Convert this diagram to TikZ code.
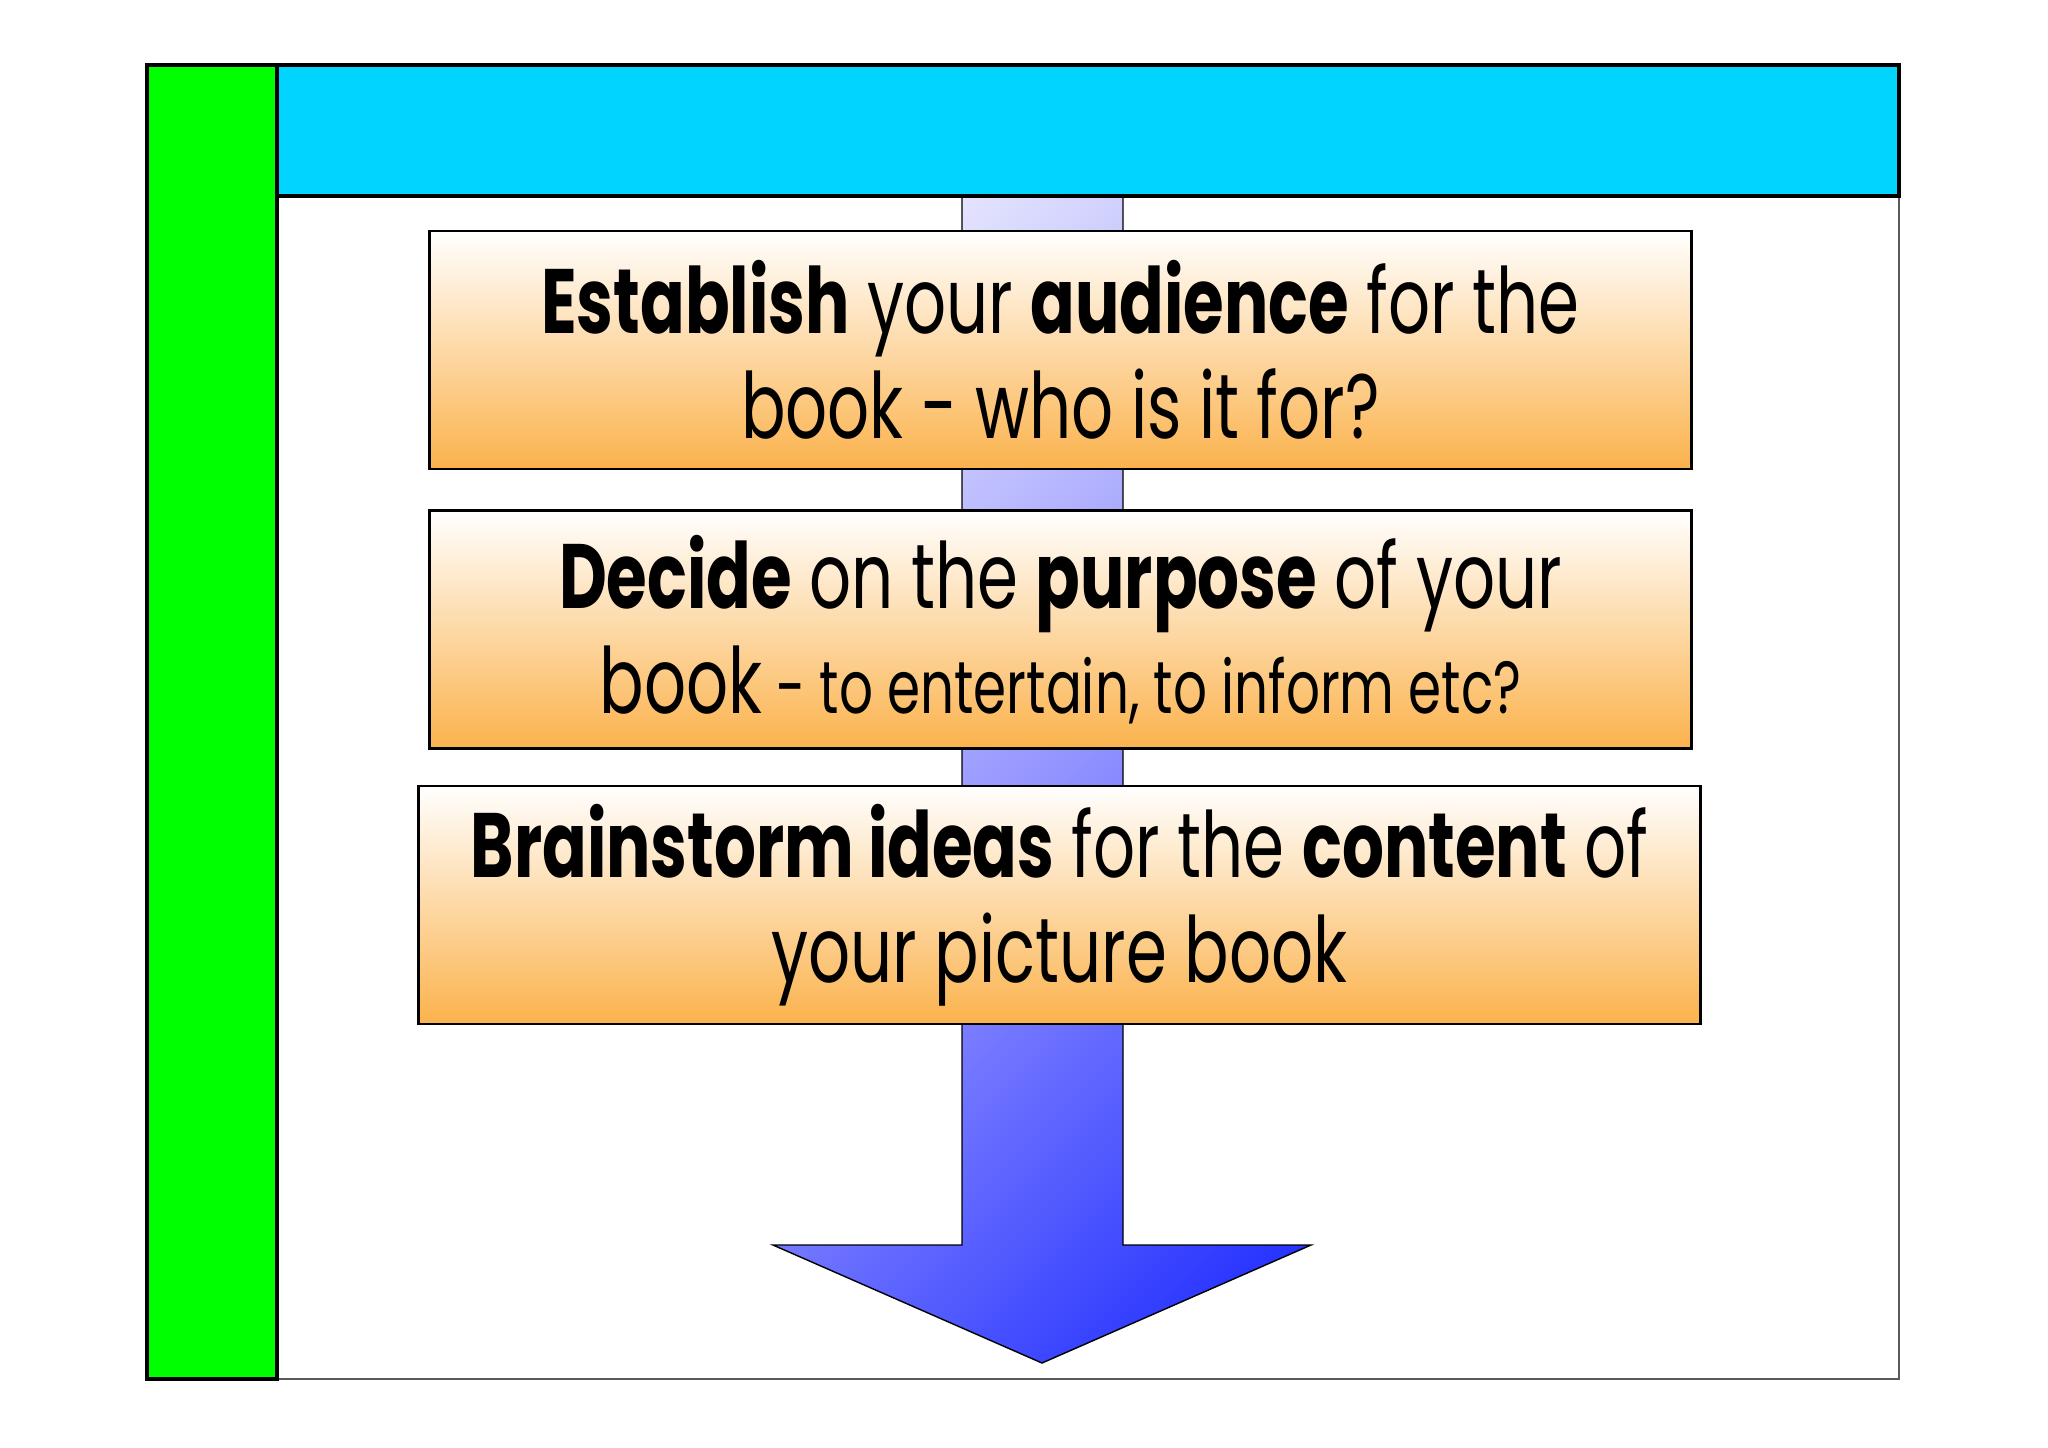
\documentclass[tikz,border=0pt]{standalone}
\usepackage{fontspec}
\setmainfont{Poppins}[FakeStretch=0.72]
\usepackage{tikz}
\definecolor{barcyan}{RGB}{0,212,255}
\definecolor{bargreen}{RGB}{0,255,0}
\definecolor{boxorange}{RGB}{251,178,76}
\definecolor{arrowlight}{RGB}{250,250,254}
\definecolor{arrowmid}{RGB}{148,148,255}
\definecolor{arrowdark}{RGB}{20,35,255}

\begin{document}
\begin{tikzpicture}[x=0.01cm,y=-0.01cm,
  stepbox/.style={draw,line width=0.7pt,top color=white,bottom color=boxorange,
    minimum width=12.61cm,minimum height=2.38cm,inner sep=0pt,align=center,
    font=\fontsize{26}{30}\selectfont}]
\useasboundingbox (0,0) rectangle (2048,1447);
\draw[gray!70!black,line width=0.5pt,fill=white] (147,65) rectangle (1899,1379);
\begin{scope}
\clip (962,196) -- (1123,196) -- (1123,1245) -- (1311,1245) -- (1042,1363) -- (773,1245) -- (962,1245) -- cycle;
\shade[top color=arrowlight,bottom color=arrowdark,middle color=arrowmid,shading angle=45] (442,180) rectangle (1642,1380);
\end{scope}
\draw[line width=0.4pt] (962,196) -- (1123,196) -- (1123,1245) -- (1311,1245) -- (1042,1363) -- (773,1245) -- (962,1245) -- cycle;
\draw[fill=bargreen,line width=1.1pt] (147,65) rectangle (277,1379);
\draw[fill=barcyan,line width=1.1pt] (277,65) rectangle (1899,196);
\node[stepbox] (audience) at (1060.5,350) {\textbf{Establish} your \textbf{audience} for the\\book - who is it for?};
\node[stepbox] (purpose) at (1060.5,629.5) {\textbf{Decide} on the \textbf{purpose} of your\\book{\fontsize{21}{30}\selectfont{} - to entertain, to inform etc?}};
\node[stepbox,minimum width=12.81cm] (content) at (1059.5,905) {\textbf{Brainstorm ideas} for the \textbf{content} of\\your picture book};
\end{tikzpicture}
\end{document}
